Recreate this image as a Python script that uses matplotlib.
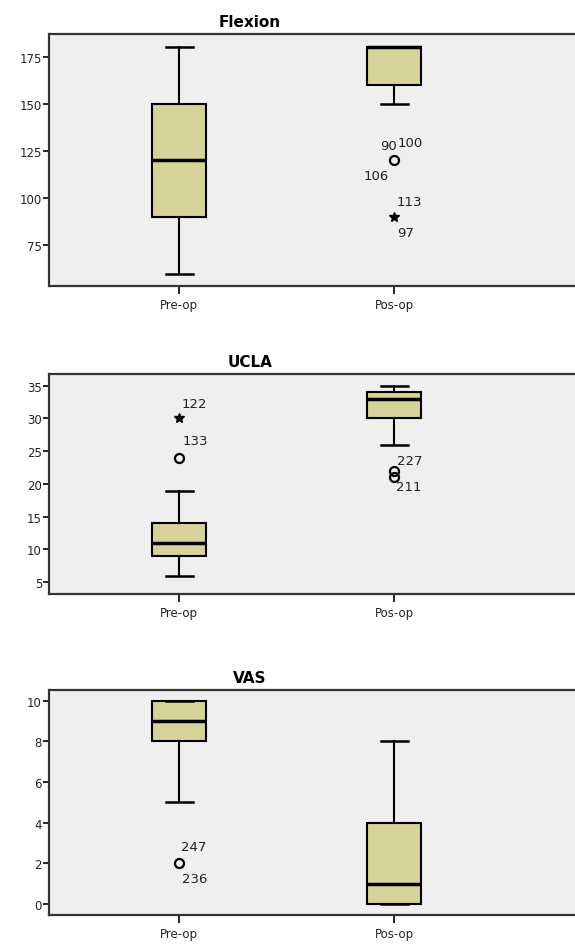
import numpy as np
import matplotlib
matplotlib.use("Agg")
import matplotlib.pyplot as plt

groups = ["Pre-op", "Pos-op"]

# panel: title, (whislo, q1, med, q3, whishi) per group
titles = ["Flexion", "UCLA", "VAS"]
box_stats = [
    [(60, 90, 120, 150, 180), (150, 160, 180, 180, 180)],
    [(6, 9, 11, 14, 19), (26, 30, 33, 34, 35)],
    [(5, 8, 9, 10, 10), (0, 0, 1, 4, 8)],
]
yticks = [[75, 100, 125, 150, 175], [5, 10, 15, 20, 25, 30, 35], [0, 2, 4, 6, 8, 10]]
ylims = [(53.5, 187), (3.2, 36.8), (-0.54, 10.53)]

# outliers: (panel, group index, value, marker, labels with pixel offsets)
outliers = [
    (0, 1, 120, "o", [("90", -6, 15), ("100", 16, 18), ("106", -18, -15)]),
    (0, 1, 90, "*", [("113", 15, 16), ("97", 11, -15)]),
    (1, 0, 30, "*", [("122", 15, 15)]),
    (1, 0, 24, "o", [("133", 16, 17)]),
    (1, 1, 22, "o", [("227", 16, 10)]),
    (1, 1, 21, "o", [("211", 15, -9)]),
    (2, 0, 2, "o", [("247", 15, 17), ("236", 16, -15)]),
]

# axes rectangles in figure fractions (right edge runs off the figure)
positions = [
    [0.0852, 0.6963, 0.95, 0.2667],
    [0.0852, 0.3704, 0.95, 0.2328],
    [0.0852, 0.0307, 0.95, 0.2381],
]

box_color = "#D6D29A"
bg_color = "#EFEFEF"

fig = plt.figure(figsize=(5.75, 9.45), dpi=100)

for p in range(3):
    ax = fig.add_axes(positions[p])
    ax.set_facecolor(bg_color)
    stats = []
    for g, (lo, q1, med, q3, hi) in enumerate(box_stats[p]):
        stats.append(dict(whislo=lo, q1=q1, med=med, q3=q3, whishi=hi, fliers=[]))
    ax.bxp(stats, positions=[1, 2], widths=0.254, patch_artist=True,
           showfliers=False,
           boxprops=dict(facecolor=box_color, edgecolor="black", linewidth=1.5),
           medianprops=dict(color="black", linewidth=2.5),
           whiskerprops=dict(color="black", linewidth=1.5),
           capprops=dict(color="black", linewidth=1.8),
           capwidths=0.125)

    for (pi, g, val, mk, labels) in outliers:
        if pi != p:
            continue
        if mk == "o":
            ax.plot(g + 1, val, "o", mfc="none", mec="black", ms=6.5, mew=1.6)
        else:
            ax.plot(g + 1, val, "*", color="black", ms=7)
        for txt, dx, dy in labels:
            ax.annotate(txt, (g + 1, val), xytext=(dx, dy), textcoords="offset pixels",
                        ha="center", va="center", fontsize=9.5, color="#222222")

    ax.set_xlim(0.395, 2.935)
    ax.set_ylim(*ylims[p])
    ax.set_yticks(yticks[p])
    ax.set_xticks([1, 2])
    ax.set_xticklabels(groups, fontsize=8.5, color="#222222")
    ax.tick_params(axis="y", labelsize=8.5, labelcolor="#222222", length=4, width=1.2, pad=1)
    ax.tick_params(axis="x", length=6, width=1.2, pad=3)
    for side in ["left", "bottom", "top"]:
        ax.spines[side].set_linewidth(1.6)
        ax.spines[side].set_color("#333333")
    ax.spines["right"].set_visible(False)
    ax.set_title(titles[p], fontsize=11, fontweight="bold", pad=6, x=0.368)

fig.savefig("out.png", dpi=100)
